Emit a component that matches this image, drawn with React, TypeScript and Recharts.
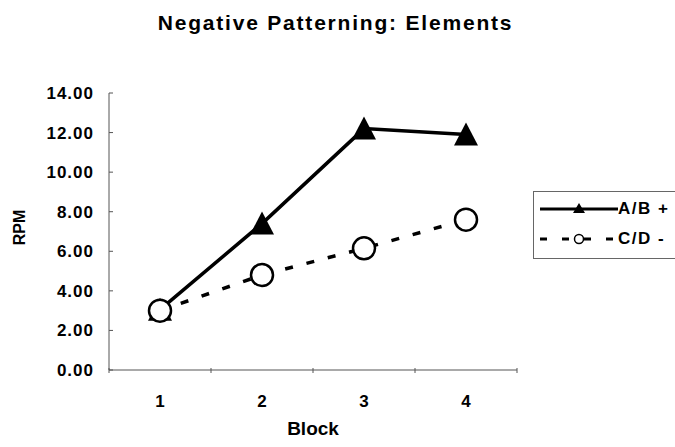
import { LineChart, Line, XAxis, YAxis, Label } from "recharts";

const BLOCKS = [1, 2, 3, 4];
const AB_PLUS = [3.05, 7.4, 12.2, 11.9];
const CD_MINUS = [3.0, 4.8, 6.15, 7.6];
const Y_TICKS = [0, 2, 4, 6, 8, 10, 12, 14];
const X_TICKS = [0.5, 1, 1.5, 2, 2.5, 3, 3.5, 4, 4.5];

const data = BLOCKS.map((b, i) => ({ block: b, ab: AB_PLUS[i], cd: CD_MINUS[i] }));

const FONT = "'Liberation Sans', Arial, sans-serif";
const AXIS = "#555";

function XTick(props: any) {
  const { x, y, payload } = props;
  if (Number.isInteger(payload.value)) {
    return (
      <text x={x} y={y + 37} textAnchor="middle" fontFamily={FONT} fontWeight="bold" fontSize={17} fill="#000">
        {payload.value}
      </text>
    );
  }
  return <line x1={x} x2={x} y1={y - 2} y2={y + 3} stroke={AXIS} />;
}

function YTick(props: any) {
  const { x, y, payload } = props;
  return (
    <g>
      <line x1={x} x2={x + 4} y1={y} y2={y} stroke={AXIS} />
      <text x={x - 15} y={y} dy={6} textAnchor="end" fontFamily={FONT} fontWeight="bold" fontSize={17}
        letterSpacing={1} fill="#000">
        {Number(payload.value).toFixed(2)}
      </text>
    </g>
  );
}

function Tri(props: any) {
  const { cx, cy } = props;
  if (cx == null || cy == null) return <g />;
  return <polygon points={`${cx},${cy - 12} ${cx + 12},${cy + 11} ${cx - 12},${cy + 11}`} fill="#000" />;
}

function Circ(props: any) {
  const { cx, cy } = props;
  if (cx == null || cy == null) return <g />;
  return <circle cx={cx} cy={cy} r={11} fill="#fff" stroke="#000" strokeWidth={2.5} />;
}

function RpmLabel(props: any) {
  const { viewBox } = props;
  const x = viewBox.x + 19;
  const y = viewBox.y + viewBox.height / 2 - 4;
  return (
    <text x={x} y={y} transform={`rotate(-90 ${x} ${y})`} textAnchor="middle" dy={6}
      fontFamily={FONT} fontWeight="bold" fontSize={16} fill="#000">RPM</text>
  );
}

function BlockLabel(props: any) {
  const { viewBox } = props;
  return (
    <text x={viewBox.x + viewBox.width / 2} y={viewBox.y + 65} textAnchor="middle"
      fontFamily={FONT} fontWeight="bold" fontSize={19} fill="#000">Block</text>
  );
}

function LegendBox() {
  const row = { display: "flex", alignItems: "center", height: 30 } as const;
  const txt = { fontFamily: FONT, fontWeight: 700, fontSize: 17, letterSpacing: 1.5, color: "#000", marginLeft: 0 } as const;
  return (
    <div style={{ position: "absolute", left: 533, top: 191, width: 150, height: 68, border: "1px solid #666",
      boxSizing: "border-box", padding: "2px 0 0 6px" }}>
      <div style={row}>
        <svg width={78} height={20}>
          <line x1={0} x2={78} y1={10} y2={10} stroke="#000" strokeWidth={3} />
          <polygon points="39,4 45,14 33,14" fill="#000" />
        </svg>
        <span style={txt}>A/B +</span>
      </div>
      <div style={row}>
        <svg width={78} height={20}>
          <line x1={0} x2={78} y1={10} y2={10} stroke="#000" strokeWidth={3} strokeDasharray="7 15" strokeDashoffset={0} />
          <circle cx={39} cy={10} r={4.5} fill="#fff" stroke="#000" strokeWidth={1.5} />
        </svg>
        <span style={txt}>C/D -</span>
      </div>
    </div>
  );
}

export default function App() {
  return (
    <div style={{ position: "relative", width: 675, height: 447, background: "#fff", overflow: "hidden" }}>
      <style>{"body{margin:0}"}</style>
      <div style={{ position: "absolute", left: 0, top: 11, width: 675, textAlign: "center", paddingRight: 4,
        boxSizing: "border-box", fontFamily: FONT, fontWeight: 700, fontSize: 21, letterSpacing: 1.8, color: "#000" }}>
        Negative Patterning: Elements
      </div>
      <LineChart width={675} height={447} data={data} margin={{ top: 93, right: 158, bottom: 0, left: 0 }}>
        <XAxis type="number" dataKey="block" domain={[0.5, 4.5]} ticks={X_TICKS} interval={0}
          height={77} tickLine={false} tickSize={0} tickMargin={0} stroke={AXIS} tick={<XTick />}>
          <Label content={<BlockLabel />} />
        </XAxis>
        <YAxis type="number" domain={[0, 14]} ticks={Y_TICKS} interval={0} width={109}
          tickLine={false} tickSize={0} tickMargin={0} stroke={AXIS} tick={<YTick />}>
          <Label content={<RpmLabel />} />
        </YAxis>
        <Line dataKey="ab" stroke="#000" strokeWidth={3.5} dot={<Tri />} isAnimationActive={false} />
        <Line dataKey="cd" stroke="#000" strokeWidth={3.5} strokeDasharray="8 14" dot={<Circ />} isAnimationActive={false} />
      </LineChart>
      <LegendBox />
    </div>
  );
}
